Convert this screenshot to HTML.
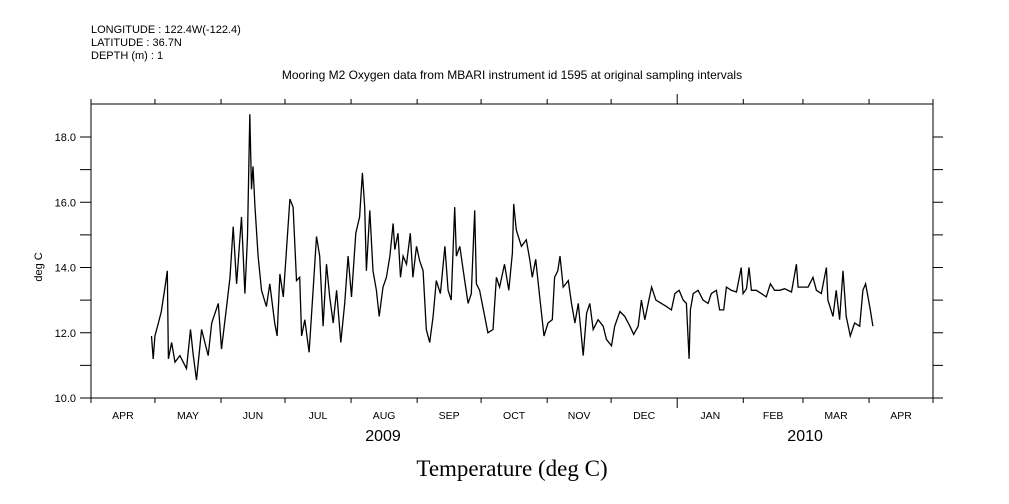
<!DOCTYPE html>
<html><head><meta charset="utf-8">
<style>
html,body{margin:0;padding:0;background:#fff;}
svg{display:block;font-family:"Liberation Sans",sans-serif;}
</style></head>
<body>
<svg id="chart" width="1009" height="504" viewBox="0 0 1009 504" xmlns="http://www.w3.org/2000/svg">
<rect x="0" y="0" width="1009" height="504" fill="#fff"/>
<g font-size="11" fill="#000">
<text x="91" y="33">LONGITUDE : 122.4W(-122.4)</text>
<text x="91" y="46">LATITUDE : 36.7N</text>
<text x="91" y="59">DEPTH (m) : 1</text>
</g>
<text x="512" y="79" font-size="12" text-anchor="middle">Mooring M2 Oxygen data from MBARI instrument id 1595 at original sampling intervals</text>
<text x="0" y="0" font-size="11" text-anchor="middle" transform="translate(42,267) rotate(-90)">deg C</text>
<text x="512" y="476" font-size="23" text-anchor="middle" font-family="'Liberation Serif',serif">Temperature (deg C)</text>
<g id="axes"></g>
<g id="plot"></g>
</svg>
<script>
const monthNames = ["APR","MAY","JUN","JUL","AUG","SEP","OCT","NOV","DEC","JAN","FEB","MAR","APR"];
const monthStartDays = [0,30,61,91,122,153,183,214,244,275,306,334,365,395];
const yearLabels = ["2009","2010"];
const yearLabelDays = [137,335];
const yTickValues = [10,11,12,13,14,15,16,17,18];
const seriesDays = [28.4,29.2,30,31.6,33,34.7,35.8,36.3,37.8,39.4,41.7,44.8,46.7,48,49.5,51.9,55,56.6,59.7,61.2,63.6,65.2,66.7,68.3,70.6,72.2,73.4,74.5,75.3,76,76.9,78.4,80,82.3,83.9,86.2,87.3,88.6,90.2,91.7,93.3,94.8,96.4,97.9,98.8,100.3,102.3,104.2,105.8,107.3,108.9,110.5,112,113.6,115.2,117.2,119,120.6,122.2,124.2,126,127.3,128.4,129.2,130.8,132.3,133.9,135.2,137,138.6,140.2,141.7,142.5,144,145.2,146.4,148,149.8,151,152.7,154.2,155.8,157.3,158.9,160.5,162,163.9,166,167.5,169,170.6,171.4,173,175.3,176.9,178.4,180,180.8,182.3,184.7,186.2,188.6,190.2,191.7,194,196,197.7,198.3,199.5,201.9,204.2,205.8,207,208.6,210.5,212.5,214.4,216.4,217.5,219,220,221.5,223.9,225.4,227,228.6,230.9,232.5,234,235.6,237.9,240.3,241.8,244.2,245.7,248.1,250.4,252.8,254.6,256.7,258.2,259.8,261.4,263,265,267.6,270,272.3,273.9,275.9,277.8,279.3,280.6,281.2,282.5,284.8,287.1,289.5,291,293.4,294.9,296.8,298.1,300.4,302.8,305,305.9,307.5,308.7,309.8,312.1,314.5,316.8,318.7,320.7,323.1,325.4,328.6,330.9,331.7,334,336.4,338.7,340.3,342.6,345,345.7,348.1,349.6,351.2,352.8,354.3,356.2,358.2,360.6,362.1,363.4,364.5,365.6,366.8];
const seriesValues = [11.9,11.2,11.9,12.3,12.65,13.4,13.9,11.2,11.7,11.1,11.3,10.9,12.1,11.3,10.55,12.1,11.3,12.3,12.9,11.5,12.8,13.7,15.25,13.5,15.55,13.2,14.95,18.7,16.4,17.1,15.9,14.35,13.3,12.8,13.5,12.3,11.9,13.8,13.1,14.55,16.1,15.85,13.6,13.7,11.9,12.4,11.4,13.3,14.95,14.35,12.2,14.1,13.1,12.3,13.3,11.7,12.9,14.35,13.1,15.05,15.55,16.9,15.85,13.9,15.75,13.9,13.3,12.5,13.4,13.7,14.35,15.35,14.55,15.05,13.7,14.35,14.1,15.05,13.7,14.65,14.2,13.9,12.1,11.7,12.5,13.6,13.2,14.65,13.3,13.0,15.85,14.35,14.65,13.6,12.9,13.2,15.75,13.5,13.3,12.5,12.0,12.1,13.7,13.4,14.1,13.3,14.45,15.95,15.15,14.65,14.85,14.25,13.7,14.25,13.1,11.9,12.3,12.4,13.7,13.9,14.35,13.4,13.6,12.9,12.3,12.9,11.3,12.6,12.9,12.1,12.4,12.2,11.8,11.6,12.2,12.65,12.5,12.2,11.95,12.2,13.0,12.4,12.9,13.4,13.0,12.9,12.8,12.7,13.2,13.3,13.0,12.9,11.2,12.7,13.2,13.3,13.0,12.9,13.2,13.3,12.7,12.7,13.4,13.3,13.25,14.0,13.2,13.35,14.0,13.3,13.3,13.2,13.1,13.5,13.3,13.3,13.35,13.25,14.1,13.4,13.4,13.4,13.7,13.3,13.2,14.0,13.0,12.5,13.3,12.4,13.9,12.5,11.9,12.3,12.2,13.3,13.5,13.1,12.7,12.2];

const L=91,R=933,T=104,B=398,D0=0,D1=395,V0=10,V1=18;
const xs=d=>L+(d-D0)/(D1-D0)*(R-L);
const yScale=v=>B-(v-V0)*(B-137)/(V1-V0);
const NS="http://www.w3.org/2000/svg";
const axes=document.getElementById('axes'), plot=document.getElementById('plot');
function mk(tag,attrs,parent){const e=document.createElementNS(NS,tag);for(const k in attrs)e.setAttribute(k,attrs[k]);parent.appendChild(e);return e;}

const frame=mk('rect',{x:L,y:T,width:R-L,height:B-T,fill:'none',stroke:'#000','stroke-width':1},axes);



yTickValues.forEach(v=>{
  const y=yScale(v);
  const t1=mk('line',{x1:L-11,x2:L,y1:y,y2:y,stroke:'#000'},axes);
  
  
  const t2=mk('line',{x1:R,x2:R+10,y1:y,y2:y,stroke:'#000'},axes);
  
  
  if(v%2===0){
    const tx=mk('text',{x:76,y:y+4,'font-size':11,'text-anchor':'end'},axes);
    tx.textContent=v.toFixed(1);
    
    
  }
});

monthStartDays.forEach((d,i)=>{
  const x=xs(d);
  const big=(d===275);
  const tb=mk('line',{x1:x,x2:x,y1:B,y2:B+(big?10:5),stroke:'#000'},axes);
  
  
  const tt=mk('line',{x1:x,x2:x,y1:T,y2:T-(big?10:5),stroke:'#000'},axes);
  
  
  if(i<monthNames.length){
    const mid=(d+monthStartDays[i+1])/2;
    const ml=mk('text',{x:xs(mid),y:419,'font-size':10.5,'text-anchor':'middle'},axes);
    ml.textContent=monthNames[i];
    
    
  }
});
yearLabels.forEach((yl,i)=>{
  const t=mk('text',{x:xs(yearLabelDays[i]),y:441,'font-size':16,'text-anchor':'middle'},axes);
  t.textContent=yl;
  
  
});

const pts=seriesDays.map((d,i)=>xs(d).toFixed(1)+','+yScale(seriesValues[i]).toFixed(1)).join(' ');
const line=mk('polyline',{points:pts,fill:'none',stroke:'#000','stroke-width':1.3,'stroke-linejoin':'miter'},plot);


</script>
</body></html>
